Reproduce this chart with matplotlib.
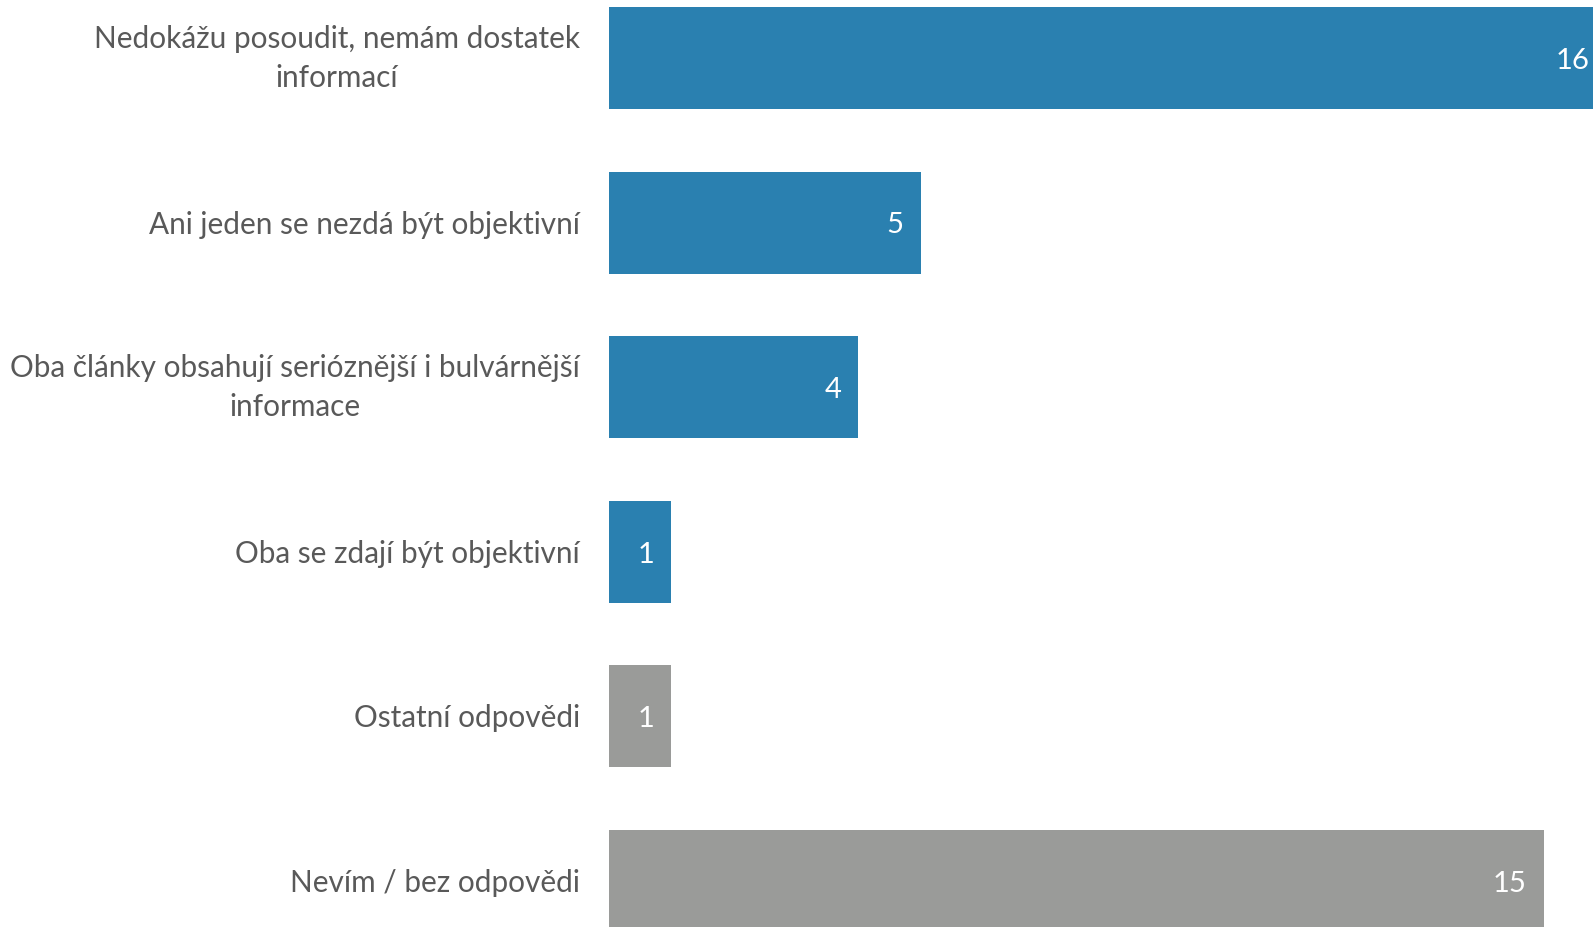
import matplotlib
matplotlib.use('Agg')
import matplotlib.pyplot as plt

plt.rcParams['font.family'] = ['Lato', 'DejaVu Sans']

categories = [
    "Nedokážu posoudit, nemám dostatek\ninformací",
    "Ani jeden se nezdá být objektivní",
    "Oba články obsahují serióznější i bulvárnější\ninformace",
    "Oba se zdají být objektivní",
    "Ostatní odpovědi",
    "Nevím / bez odpovědi",
]
values = [16, 5, 4, 1, 1, 15]
colors = ['#2A80B0', '#2A80B0', '#2A80B0', '#2A80B0', '#9A9B99', '#9A9B99']

xmax = 15.79

fig = plt.figure(figsize=(15.93, 9.27), dpi=100)
ax = fig.add_axes([609 / 1593, 0, 1 - 609 / 1593, 1])

ypos = list(range(len(values)))
ax.barh(ypos, values, height=0.62, color=colors)
ax.set_xlim(0, xmax)
ax.set_ylim(5.28, -0.352)
ax.set_xticks([])
ax.set_yticks([])
for s in ax.spines.values():
    s.set_visible(False)

# category labels
for y, cat in zip(ypos, categories):
    dy = -0.5 if '\n' in cat else -1.5
    ax.annotate(cat, xy=(0, y), xycoords=('axes fraction', 'data'),
                xytext=(-21, dy), textcoords='offset points',
                ha='right', va='center', multialignment='center',
                fontsize=21.4, color='#595959', linespacing=1.47)

for y, v in zip(ypos, values):
    if v > xmax:
        x, off = xmax, -4
    else:
        x, off = v, -17
    ax.annotate(str(v), xy=(x, y), xytext=(off * 0.72, -2), textcoords='offset points',
                ha='right', va='center', color='white', fontsize=21)

fig.savefig('out.png', dpi=100)
